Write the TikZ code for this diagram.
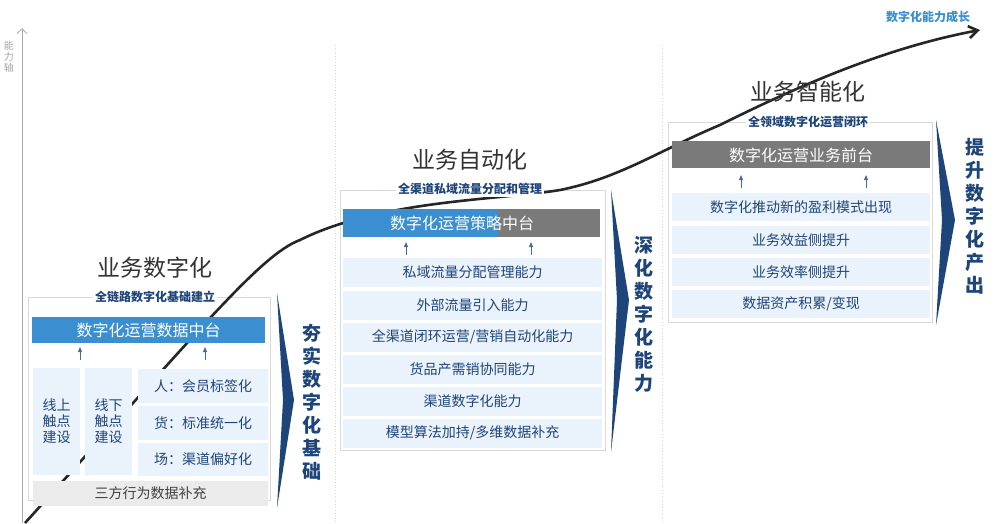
\documentclass[tikz,border=0pt]{standalone}
\usepackage{fontspec}
\setmainfont{Noto Sans CJK SC}
\usetikzlibrary{arrows.meta}
\definecolor{navy}{HTML}{1E4579}
\definecolor{rowbg}{HTML}{EAF2FB}
\definecolor{barblue}{HTML}{3B8FD0}
\definecolor{bargray}{HTML}{7A7A7A}
\definecolor{frame}{HTML}{D8D8D8}
\tikzset{
 ttl/.style={font=\fontsize{23}{25}\selectfont,text=black!80},
 sub/.style={font=\bfseries\fontsize{12}{14}\selectfont,text=navy,fill=white,inner sep=2pt},
 row/.style={fill=rowbg,font=\fontsize{14}{16}\selectfont,text=navy,anchor=center},
 bartxt/.style={font=\fontsize{16}{18}\selectfont,text=white},
 vtxt/.style={font=\bfseries\fontsize{19}{23}\selectfont,text=navy,align=center},
 up/.style={-{Triangle[length=5pt,width=4pt]},navy!80,line width=0.8pt},
 chev/.style={fill=navy},
 frm/.style={draw=frame,line width=0.6pt},
}
\begin{document}
\begin{tikzpicture}[x=1pt,y=-1pt]
\useasboundingbox (0,0) rectangle (1000,523);
\fill[white] (0,0) rectangle (1000,523);
% separators
\draw[frame,dotted,line width=0.8pt] (335,45) -- (335,523);
\draw[frame,dotted,line width=0.8pt] (662,45) -- (662,523);
% axis
\coordinate (a0) at (22,523); \coordinate (a1) at (22,28);
\draw[gray!70,line width=0.8pt,-{Straight Barb[length=5pt]}] (a0) -- (a1);
\node[text=gray!70,font=\fontsize{10}{11}\selectfont,align=center] (axl) at (9,57) {能\\力\\轴};
% frames
\draw[frm] (28,297) rectangle (270,500);
\draw[frm] (340,190) rectangle (605,450);
\draw[frm] (668,122) rectangle (932,322);
% growth curve
\coordinate (c0) at (25,523);
\coordinate (c1) at (300,240);
\coordinate (c2) at (560,190);
\coordinate (c3) at (720,125);
\coordinate (c4) at (980,30);
\draw[black!85,line width=2.6pt,-{Straight Barb[length=9pt,width=12pt]}]
 (c0) .. controls (200,330) and (260,255) .. (c1)
      .. controls (380,200) and (500,200) .. (c2)
      .. controls (620,178) and (660,150) .. (c3)
      .. controls (820,75) and (900,45) .. (c4);
\node[text=barblue,font=\bfseries\fontsize{12}{14}\selectfont] (grow) at (928,17) {数字化能力成长};

% ---------- panel 1
\node[ttl] (t1) at (155,268) {业务数字化};
\node[sub] (s1) at (155,297) {全链路数字化基础建立};
\fill[barblue] (32,317) rectangle (265,343);
\node[bartxt] (b1) at (148.5,330) {数字化运营数据中台};
\coordinate (p1a) at (80,360); \coordinate (p1b) at (80,347);
\coordinate (p1c) at (205,360); \coordinate (p1d) at (205,347);
\draw[up] (p1a) -- (p1b); \draw[up] (p1c) -- (p1d);
\node[row,minimum width=47pt,minimum height=107pt,align=center] (r11) at (56.5,421.5) {线上\\触点\\建设};
\node[row,minimum width=47pt,minimum height=107pt,align=center] (r12) at (108.5,421.5) {线下\\触点\\建设};
\node[row,minimum width=130pt,minimum height=34pt] (r13) at (203,386) {人：会员标签化};
\node[row,minimum width=130pt,minimum height=34pt] (r14) at (203,423) {货：标准统一化};
\node[row,minimum width=130pt,minimum height=33pt] (r15) at (203,459) {场：渠道偏好化};
\node[row,fill=black!8,text=black!75,minimum width=235pt,minimum height=25pt] (r16) at (150.5,493) {三方行为数据补充};
\fill[chev] (277,293) -- (294,400) -- (277,508) -- (283,400) -- cycle;
\node[vtxt] (v1) at (312,402) {夯\\实\\数\\字\\化\\基\\础};

% ---------- panel 2
\node[ttl] (t2) at (470,160) {业务自动化};
\node[sub] (s2) at (470,189) {全渠道私域流量分配和管理};
\fill[barblue] (343,209) rectangle (498,237);
\fill[bargray] (498,209) rectangle (600,237);
\node[bartxt] (b2) at (462,223) {数字化运营策略中台};
\coordinate (p2a) at (406,255); \coordinate (p2b) at (406,242);
\coordinate (p2c) at (531,255); \coordinate (p2d) at (531,242);
\draw[up] (p2a) -- (p2b); \draw[up] (p2c) -- (p2d);
\foreach \n/\y/\t in {1/272/{私域流量分配管理能力},2/305/{外部流量引入能力},3/337/{全渠道闭环运营/营销自动化能力},4/369/{货品产需销协同能力},5/401/{渠道数字化能力},6/433/{模型算法加持/多维数据补充}}
 \node[row,minimum width=259pt,minimum height=29pt] (r2\n) at (472.5,\y) {\t};
\fill[chev] (611,190) -- (629,300) -- (611,452) -- (617,300) -- cycle;
\node[vtxt] (v2) at (644,314) {深\\化\\数\\字\\化\\能\\力};

% ---------- panel 3
\node[ttl] (t3) at (808,92) {业务智能化};
\node[sub] (s3) at (808,122) {全领域数字化运营闭环};
\fill[bargray] (672,141) rectangle (930,168);
\node[bartxt] (b3) at (801,155) {数字化运营业务前台};
\coordinate (p3a) at (741,188); \coordinate (p3b) at (741,175);
\coordinate (p3c) at (866,188); \coordinate (p3d) at (866,175);
\draw[up] (p3a) -- (p3b); \draw[up] (p3c) -- (p3d);
\foreach \n/\y/\t in {1/207/{数字化推动新的盈利模式出现},2/240/{业务效益侧提升},3/272/{业务效率侧提升},4/304/{数据资产积累/变现}}
 \node[row,minimum width=258pt,minimum height=28pt] (r3\n) at (801,\y) {\t};
\fill[chev] (936,120) -- (955,220) -- (936,325) -- (942,220) -- cycle;
\node[vtxt] (v3) at (975,216) {提\\升\\数\\字\\化\\产\\出};
\end{tikzpicture}
\end{document}
